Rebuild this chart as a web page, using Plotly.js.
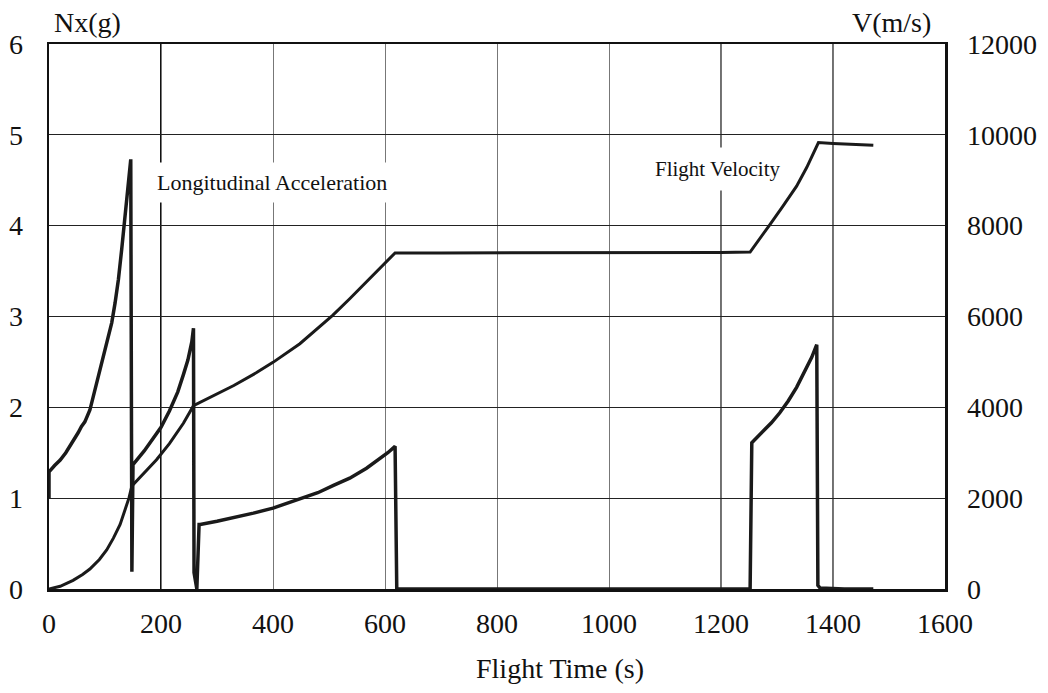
<!DOCTYPE html>
<html>
<head>
<meta charset="utf-8">
<script src="https://cdn.plot.ly/plotly-3.0.1.min.js"></script>
<style>html,body{margin:0;padding:0;background:#fff;}#chart{width:1048px;height:693px;}</style>
</head>
<body>
<div id="chart"></div>
<script>
// Longitudinal acceleration Nx (g), left axis
const accTime = [0, 0, 10, 20, 30, 43, 52, 58, 64, 73, 82, 91, 100, 112, 118, 124, 130, 136, 141, 146, 148, 150, 170, 192, 200, 215, 230, 240, 248, 255, 258, 259, 264, 268, 270, 300, 330, 365, 400, 448, 480, 508, 537, 567, 590, 605, 618, 621, 700, 800, 900, 1000, 1100, 1200, 1252, 1255, 1276, 1290, 1305, 1320, 1335, 1353, 1362, 1371, 1373, 1377, 1420, 1472];
const accNx   = [1.0, 1.29, 1.36, 1.42, 1.5, 1.62, 1.72, 1.79, 1.84, 1.97, 2.19, 2.38, 2.6, 2.93, 3.15, 3.41, 3.75, 4.1, 4.42, 4.73, 0.19, 1.37, 1.52, 1.70, 1.78, 1.96, 2.17, 2.36, 2.52, 2.72, 2.87, 0.18, 0.0, 0.71, 0.71, 0.745, 0.785, 0.835, 0.89, 0.99, 1.06, 1.14, 1.22, 1.33, 1.43, 1.50, 1.57, 0.0, 0.0, 0.0, 0.0, 0.0, 0.0, 0.0, 0.0, 1.61, 1.74, 1.83, 1.94, 2.07, 2.22, 2.43, 2.55, 2.69, 0.04, 0.01, 0.0, 0.0];

// Flight velocity V (m/s), right axis
const velTime = [0, 20, 43, 60, 73, 90, 103, 115, 127, 137, 143, 148, 170, 192, 215, 240, 258, 290, 330, 370, 400, 448, 507, 537, 570, 600, 618, 700, 800, 900, 1000, 1100, 1200, 1252, 1270, 1287, 1310, 1335, 1353, 1374, 1400, 1472];
const velV    = [0, 60, 190, 320, 440, 650, 860, 1120, 1420, 1760, 2010, 2270, 2560, 2845, 3200, 3650, 4035, 4230, 4480, 4760, 4990, 5400, 6030, 6390, 6800, 7170, 7400, 7400, 7400, 7400, 7400, 7400, 7410, 7420, 7720, 8020, 8420, 8870, 9280, 9830, 9810, 9770];

const xTicks = [0, 200, 400, 600, 800, 1000, 1200, 1400, 1600];
const yTicks = [0, 1, 2, 3, 4, 5, 6];
const y2Ticks = [0, 2000, 4000, 6000, 8000, 10000, 12000];
const darkGridX = [200, 1200, 1400];

const serif = "'Liberation Serif', 'Times New Roman', serif";

const traces = [
  {x: accTime, y: accNx, type: 'scatter', mode: 'lines', name: 'Longitudinal Acceleration',
   line: {color: '#1a1a1a', width: 3.5}, yaxis: 'y'},
  {x: velTime, y: velV, type: 'scatter', mode: 'lines', name: 'Flight Velocity',
   line: {color: '#1a1a1a', width: 3}, yaxis: 'y2'}
];

const shapes = darkGridX.map((v, i) => ({
  type: 'line', xref: 'x', yref: 'paper', x0: v, x1: v, y0: 0, y1: 1, layer: 'below',
  line: {color: '#111', width: i === 0 ? 2 : 1.2}
}));

const layout = {
  width: 1048, height: 693,
  margin: {l: 49, r: 103, t: 44, b: 104},
  paper_bgcolor: '#fff', plot_bgcolor: '#fff',
  showlegend: false,
  font: {family: serif, color: '#111', size: 28},
  xaxis: {
    range: [0, 1600], tickvals: xTicks, ticktext: xTicks.map(String),
    showgrid: true, gridcolor: '#777', gridwidth: 1,
    showline: true, linecolor: '#111', linewidth: 2.5, mirror: true,
    ticks: '', ticklabelstandoff: 8, zeroline: false,
    tickfont: {family: serif, size: 28, color: '#111'}
  },
  yaxis: {
    range: [0, 6], tickvals: yTicks, ticktext: yTicks.map(String),
    showgrid: true, gridcolor: '#222', gridwidth: 1,
    showline: true, linecolor: '#111', linewidth: 2.5, mirror: true,
    ticks: '', ticklabelstandoff: 18, zeroline: false,
    tickfont: {family: serif, size: 28, color: '#111'}
  },
  yaxis2: {
    range: [0, 12000], tickvals: y2Ticks, ticktext: y2Ticks.map(String),
    overlaying: 'y', side: 'right', showgrid: false,
    showline: true, linecolor: '#111', linewidth: 2.5,
    ticks: '', ticklabelstandoff: 14, zeroline: false,
    tickfont: {family: serif, size: 28, color: '#111'}
  },
  shapes: shapes,
  annotations: [
    {text: 'Nx(g)', xref: 'paper', yref: 'paper', x: 0.043, y: 1.04, xanchor: 'center', yanchor: 'middle',
     showarrow: false, font: {family: serif, size: 28, color: '#111'}},
    {text: 'V(m/s)', xref: 'paper', yref: 'paper', x: 0.94, y: 1.04, xanchor: 'center', yanchor: 'middle',
     showarrow: false, font: {family: serif, size: 28, color: '#111'}},
    {text: 'Flight Time (s)', xref: 'paper', yref: 'paper', x: 0.57, y: -0.145, xanchor: 'center', yanchor: 'middle',
     showarrow: false, font: {family: serif, size: 28, color: '#111'}},
    {text: 'Longitudinal Acceleration', xref: 'x', yref: 'y', x: 398, y: 4.48, xanchor: 'center', yanchor: 'middle',
     showarrow: false, bgcolor: '#fff', borderpad: 7, font: {family: serif, size: 22, color: '#111'}},
    {text: 'Flight Velocity', xref: 'x', yref: 'y', x: 1195, y: 4.62, xanchor: 'center', yanchor: 'middle',
     showarrow: false, bgcolor: '#fff', borderpad: 9, font: {family: serif, size: 21, color: '#111'}}
  ]
};

Plotly.newPlot('chart', traces, layout, {displayModeBar: false, staticPlot: true});
</script>
</body>
</html>
